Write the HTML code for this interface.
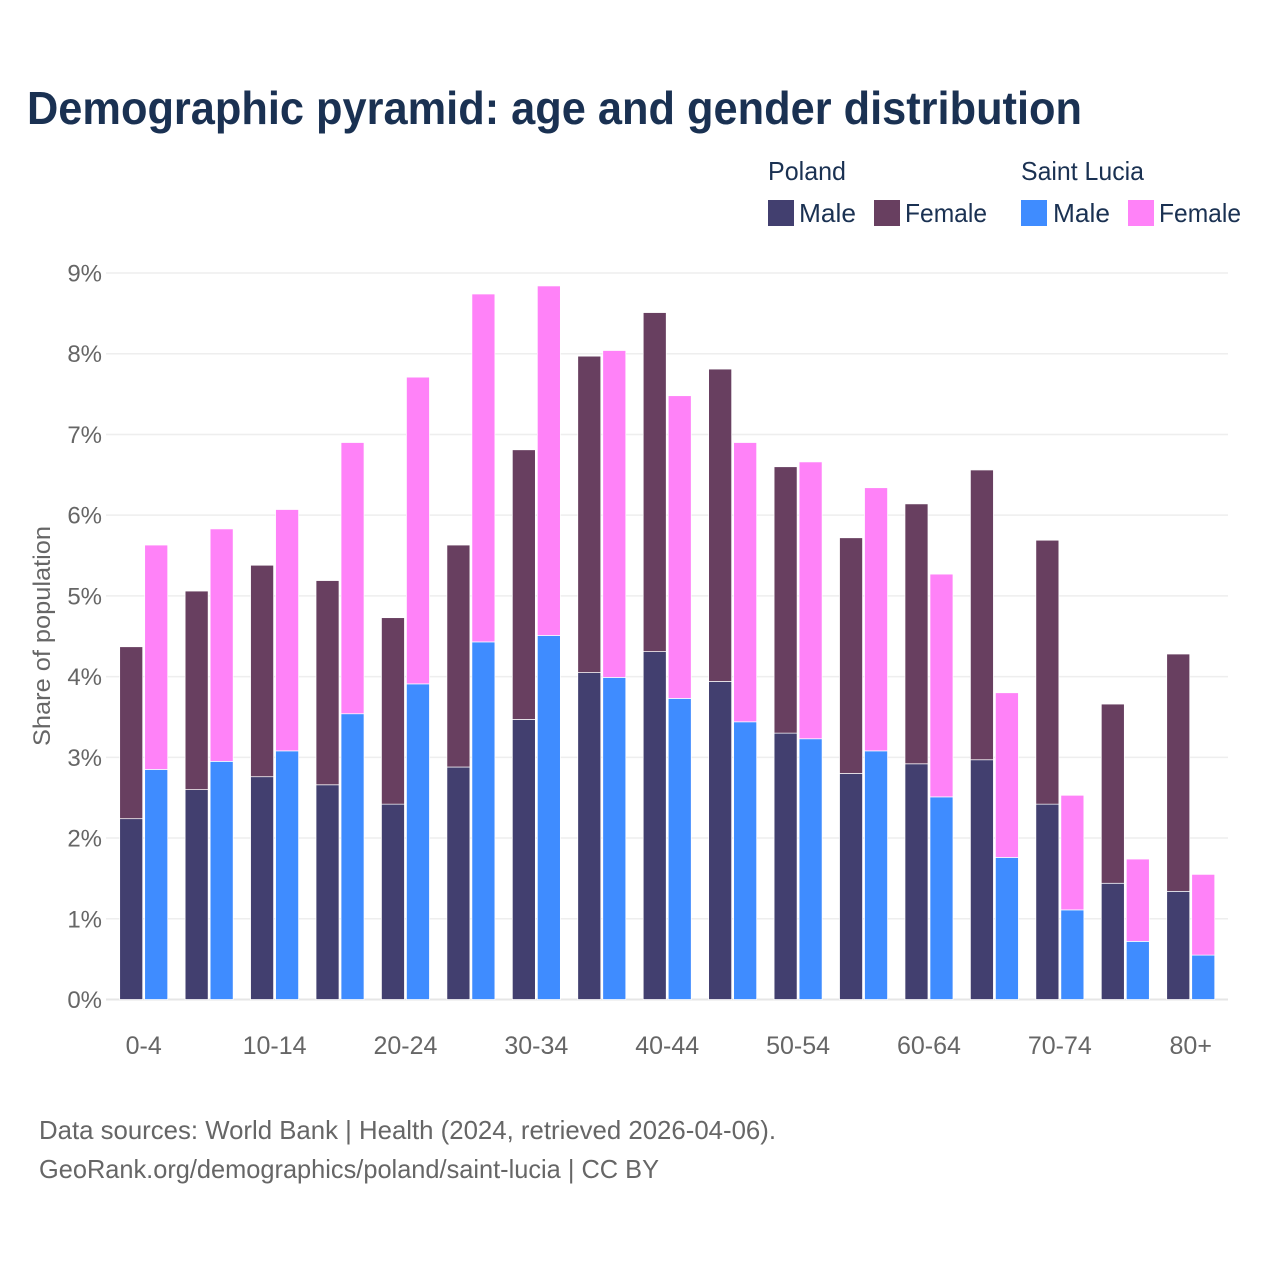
<!DOCTYPE html>
<html lang="en">
<head>
<meta charset="utf-8">
<title>Demographic pyramid</title>
<style>
html,body{margin:0;padding:0;background:#fff;}
svg{display:block;font-family:"Liberation Sans",sans-serif;}
</style>
</head>
<body>
<svg id="chart" width="1280" height="1280" viewBox="0 0 1280 1280" xmlns="http://www.w3.org/2000/svg">
  <rect x="0" y="0" width="1280" height="1280" fill="#ffffff"/>
  <text x="27" y="124" font-size="46" font-weight="700" fill="#1a3152" textLength="1055" lengthAdjust="spacingAndGlyphs">Demographic pyramid: age and gender distribution</text>

  <text x="768" y="180" font-size="26" fill="#1a3152" textLength="78" lengthAdjust="spacingAndGlyphs">Poland</text>
  <text x="1021" y="180" font-size="26" fill="#1a3152" textLength="123" lengthAdjust="spacingAndGlyphs">Saint Lucia</text>
  <rect x="768" y="200" width="26" height="26" fill="#423f6f"/>
  <text x="799" y="222" font-size="26" fill="#1a3152" textLength="57" lengthAdjust="spacingAndGlyphs">Male</text>
  <rect x="874" y="200" width="26" height="26" fill="#683f60"/>
  <text x="905" y="222" font-size="26" fill="#1a3152" textLength="82" lengthAdjust="spacingAndGlyphs">Female</text>
  <rect x="1021" y="200" width="26" height="26" fill="#3f8cff"/>
  <text x="1053" y="222" font-size="26" fill="#1a3152" textLength="57" lengthAdjust="spacingAndGlyphs">Male</text>
  <rect x="1128" y="200" width="26" height="26" fill="#ff82f8"/>
  <text x="1159" y="222" font-size="26" fill="#1a3152" textLength="82" lengthAdjust="spacingAndGlyphs">Female</text>

  <g id="grid"></g>
  <g id="bars"></g>
  <g id="yticks"></g>
  <g id="xticks"></g>

  <text transform="translate(50,746) rotate(-90)" x="0" y="0" font-size="24" fill="#666666" textLength="220" lengthAdjust="spacingAndGlyphs">Share of population</text>

  <text x="39" y="1139" font-size="26" fill="#666666" textLength="737" lengthAdjust="spacingAndGlyphs">Data sources: World Bank | Health (2024, retrieved 2026-04-06).</text>
  <text x="39" y="1178" font-size="26" fill="#666666" textLength="620" lengthAdjust="spacingAndGlyphs">GeoRank.org/demographics/poland/saint-lucia | CC BY</text>
</svg>
<script>
const categories = ["0-4","5-9","10-14","15-19","20-24","25-29","30-34","35-39","40-44","45-49","50-54","55-59","60-64","65-69","70-74","75-79","80+"];
const polandMale = [2.24,2.60,2.76,2.66,2.42,2.88,3.47,4.05,4.31,3.94,3.30,2.80,2.92,2.97,2.42,1.44,1.34];
const polandFemale = [2.13,2.46,2.62,2.53,2.31,2.75,3.34,3.92,4.20,3.87,3.30,2.92,3.22,3.59,3.27,2.22,2.94];
const saintLuciaMale = [2.85,2.95,3.08,3.54,3.91,4.43,4.51,3.99,3.73,3.44,3.23,3.08,2.51,1.76,1.11,0.72,0.55];
const saintLuciaFemale = [2.78,2.88,2.99,3.36,3.80,4.31,4.33,4.05,3.75,3.46,3.43,3.26,2.76,2.04,1.42,1.02,1.00];
const yTicks = [0,1,2,3,4,5,6,7,8,9];

const NS = "http://www.w3.org/2000/svg";
const yBase = 999.5, yPerUnit = 80.72;
const xFirst = 143.7, xStep = 65.44;
const barWidth = 23, barGap = 2;
function yScale(v) { return yBase - v * yPerUnit; }
function xScale(i) { return xFirst + i * xStep; }

const gridG = document.getElementById("grid");
const barsG = document.getElementById("bars");
const yG = document.getElementById("yticks");
const xG = document.getElementById("xticks");

yTicks.forEach(function (t) {
  const line = document.createElementNS(NS, "line");
  
  
  line.setAttribute("x1", 106);
  line.setAttribute("x2", 1228);
  line.setAttribute("y1", yScale(t));
  line.setAttribute("y2", yScale(t));
  line.setAttribute("stroke", t === 0 ? "#e6e6e6" : "#eeeeee");
  line.setAttribute("stroke-width", t === 0 ? 2 : 1.5);
  gridG.appendChild(line);

  const label = document.createElementNS(NS, "text");
  
  
  label.setAttribute("x", 102);
  label.setAttribute("y", yScale(t) + 8.5);
  label.setAttribute("text-anchor", "end");
  label.setAttribute("font-size", 24);
  label.setAttribute("fill", "#666666");
  label.textContent = t + "%";
  yG.appendChild(label);
});

function addBar(x, v0, v1, fill) {
  const r = document.createElementNS(NS, "rect");
  
  
  r.setAttribute("x", x);
  r.setAttribute("y", yScale(v1));
  r.setAttribute("width", barWidth);
  r.setAttribute("height", yScale(v0) - yScale(v1));
  r.setAttribute("fill", fill);
  r.setAttribute("stroke", "#ffffff");
  r.setAttribute("stroke-width", 0.7);
  barsG.appendChild(r);
}

categories.forEach(function (c, i) {
  const cx = xScale(i);
  const left = cx - barGap / 2 - barWidth;
  const right = cx + barGap / 2;
  addBar(left, 0, polandMale[i], "#423f6f");
  addBar(left, polandMale[i], polandMale[i] + polandFemale[i], "#683f60");
  addBar(right, 0, saintLuciaMale[i], "#3f8cff");
  addBar(right, saintLuciaMale[i], saintLuciaMale[i] + saintLuciaFemale[i], "#ff82f8");

  if (i % 2 === 0) {
    const label = document.createElementNS(NS, "text");
    
    
    label.setAttribute("x", cx);
    label.setAttribute("y", 1054);
    label.setAttribute("text-anchor", "middle");
    label.setAttribute("font-size", 25);
    label.setAttribute("fill", "#666666");
    label.textContent = c;
    xG.appendChild(label);
  }
});
</script>
</body>
</html>
